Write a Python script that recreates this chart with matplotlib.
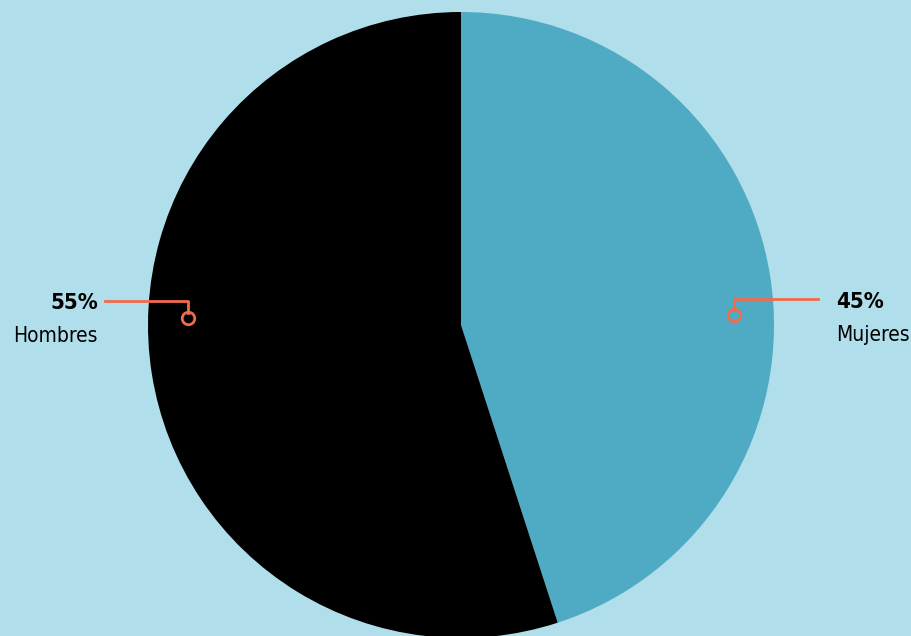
import matplotlib.pyplot as plt

# data
labels = ['Mujeres', 'Hombres']
values = [45, 55]
pct_labels = ['45%', '55%']
colors = ['#4FAAC3', '#000000']

bg = '#B0DEEA'
accent = '#F26B4B'
plt.rcParams['font.family'] = ['DejaVu Sans']
plt.rcParams['font.stretch'] = 'condensed'

fig = plt.figure(figsize=(9.12, 6.36), dpi=100, facecolor=bg)
ax = fig.add_axes([0, 0, 1, 1])
ax.set_facecolor(bg)

ax.pie(values, colors=colors, startangle=90, counterclock=False,
       center=(461, 311), radius=313, frame=True,
       wedgeprops=dict(linewidth=0))
ax.set_xlim(0, 912)
ax.set_ylim(0, 636)
ax.set_aspect('equal')
ax.axis('off')

# callouts (y measured from top, flipped)
H = 636
# Hombres
ax.plot([105, 188, 188], [H - 301, H - 301, H - 313], color=accent, lw=2, zorder=5)
ax.plot(188, H - 318, 'o', ms=9, mfc='none', mec=accent, mew=2, zorder=6)
ax.text(98, H - 303, pct_labels[1], ha='right', va='center', fontsize=16,
        fontweight='bold', stretch='condensed', color='black')
ax.text(98, H - 336, labels[1], ha='right', va='center', fontsize=15,
        stretch='condensed', color='black')
# Mujeres
ax.plot([818, 734, 734], [H - 299, H - 299, H - 310], color=accent, lw=2, zorder=5)
ax.plot(734, H - 315, 'o', ms=9, mfc='none', mec=accent, mew=2, zorder=6)
ax.text(836, H - 302, pct_labels[0], ha='left', va='center', fontsize=16,
        fontweight='bold', stretch='condensed', color='black')
ax.text(836, H - 335, labels[0], ha='left', va='center', fontsize=15,
        stretch='condensed', color='black')

fig.savefig('out.png', dpi=100, facecolor=bg)
